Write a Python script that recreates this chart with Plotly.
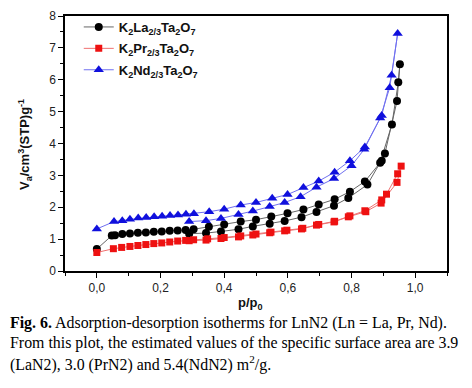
import plotly.graph_objects as go

# K2La2/3Ta2O7 (black circles)
la_ads_x = [0.29, 0.343, 0.39, 0.445, 0.49, 0.543, 0.59, 0.643, 0.69, 0.745, 0.79, 0.85, 0.89, 0.927, 0.947]
la_ads_y = [1.17, 1.19, 1.24, 1.31, 1.40, 1.48, 1.57, 1.69, 1.85, 2.05, 2.29, 2.71, 3.40, 4.60, 5.92]
la_des_x = [0.952, 0.943, 0.905, 0.895, 0.842, 0.795, 0.747, 0.697, 0.649, 0.599, 0.548, 0.50, 0.452, 0.40, 0.352,
            0.304, 0.279, 0.254, 0.229, 0.204, 0.179, 0.154, 0.129, 0.104, 0.08, 0.057, 0.047, 0.0]
la_des_y = [6.49, 5.33, 3.69, 3.46, 2.81, 2.49, 2.25, 2.09, 1.93, 1.81, 1.71, 1.61, 1.55, 1.46, 1.39,
            1.31, 1.29, 1.27, 1.26, 1.24, 1.23, 1.21, 1.20, 1.18, 1.16, 1.12, 1.11, 0.69]

# K2Pr2/3Ta2O7 (red squares)
pr_ads_x = [0.29, 0.343, 0.39, 0.445, 0.49, 0.543, 0.59, 0.643, 0.69, 0.745, 0.79, 0.845, 0.893, 0.943]
pr_ads_y = [0.95, 0.97, 1.02, 1.07, 1.13, 1.20, 1.26, 1.32, 1.44, 1.54, 1.70, 1.86, 2.13, 2.78]
pr_des_x = [0.956, 0.945, 0.91, 0.895, 0.842, 0.795, 0.747, 0.697, 0.647, 0.597, 0.547, 0.50, 0.452, 0.40, 0.348,
            0.304, 0.279, 0.254, 0.229, 0.204, 0.179, 0.154, 0.129, 0.104, 0.078, 0.052, 0.0]
pr_des_y = [3.29, 3.05, 2.41, 2.23, 1.89, 1.73, 1.56, 1.46, 1.34, 1.28, 1.22, 1.16, 1.10, 1.05, 1.01,
            0.98, 0.96, 0.94, 0.91, 0.88, 0.86, 0.83, 0.80, 0.77, 0.74, 0.70, 0.58]

# K2Nd2/3Ta2O7 (blue triangles)
nd_ads_x = [0.29, 0.343, 0.39, 0.445, 0.49, 0.543, 0.59, 0.64, 0.69, 0.745, 0.80, 0.84, 0.89, 0.92]
nd_ads_y = [1.55, 1.58, 1.65, 1.77, 1.88, 2.02, 2.15, 2.33, 2.63, 2.90, 3.30, 3.82, 4.80, 5.75]
nd_des_x = [0.945, 0.926, 0.895, 0.842, 0.795, 0.747, 0.697, 0.649, 0.599, 0.551, 0.50, 0.452, 0.40, 0.353,
            0.305, 0.28, 0.255, 0.23, 0.205, 0.18, 0.155, 0.13, 0.104, 0.08, 0.054, 0.0]
nd_des_y = [7.45, 6.14, 4.88, 3.89, 3.46, 3.10, 2.82, 2.62, 2.40, 2.28, 2.15, 2.07, 1.94, 1.86,
            1.80, 1.78, 1.76, 1.74, 1.72, 1.70, 1.68, 1.66, 1.62, 1.58, 1.55, 1.32]

names = ["<b>K<sub>2</sub>La<sub>2/3</sub>Ta<sub>2</sub>O<sub>7</sub></b>",
         "<b>K<sub>2</sub>Pr<sub>2/3</sub>Ta<sub>2</sub>O<sub>7</sub></b>",
         "<b>K<sub>2</sub>Nd<sub>2/3</sub>Ta<sub>2</sub>O<sub>7</sub></b>"]

x_ticks = [0.0, 0.2, 0.4, 0.6, 0.8, 1.0]
y_ticks = [0, 1, 2, 3, 4, 5, 6, 7, 8]

series = [
    (la_ads_x + la_des_x, la_ads_y + la_des_y, "circle", "#000000", "#666666", 8),
    (pr_ads_x + pr_des_x, pr_ads_y + pr_des_y, "square", "#ee1111", "#f07070", 7),
    (nd_ads_x + nd_des_x, nd_ads_y + nd_des_y, "triangle-up", "#1010dd", "#7070f0", 9),
]

fig = go.Figure()
for i, ((xs, ys, sym, mc, lc, ms), nm) in enumerate(zip(series, names)):
    fig.add_trace(go.Scatter(x=xs, y=ys, mode="lines+markers", name=nm, legendgroup=f"g{i}",
                             line=dict(color=lc, width=1),
                             marker=dict(symbol=sym, color=mc, size=ms)))

SANS = "Arial, Liberation Sans, sans-serif"
axis_font = dict(family=SANS, size=12, color="#222")
W, H = 464, 380
ML, MT, MB = 57, 8, 117
PW, PH = 382, H - MT - MB

# page has an 8px body margin: screen (sx, sy) -> paper coords
def px(sx):
    return (sx - 8 - ML) / PW

def py(sy):
    return (MT + PH - (sy - 8)) / PH

fig.update_layout(
    width=W, height=H,
    margin=dict(l=ML, r=W - ML - PW, t=MT, b=MB, autoexpand=False),
    paper_bgcolor="white", plot_bgcolor="white",
    separators=",.",
    showlegend=True,
    legend=dict(x=0.036, y=py(12), xanchor="left", yanchor="top",
                font=dict(family=SANS, size=13, color="#111"),
                bgcolor="rgba(0,0,0,0)", tracegroupgap=1.5, itemwidth=30),
    xaxis=dict(range=[-0.1, 1.1], tickvals=x_ticks, tickformat=".1f", automargin=False,
               ticks="outside", ticklen=5, tickwidth=1, tickcolor="#000",
               minor=dict(dtick=0.1, tick0=-0.1, ticks="outside", ticklen=3, tickcolor="#000"),
               showline=True, linecolor="#000", linewidth=1.5, mirror=True,
               showgrid=False, zeroline=False, tickfont=axis_font),
    yaxis=dict(range=[0, 8], tickvals=y_ticks, automargin=False, ticklabeloverflow="allow",
               ticks="outside", ticklen=5, tickwidth=1, tickcolor="#000",
               minor=dict(dtick=0.5, tick0=0, ticks="outside", ticklen=3, tickcolor="#000"),
               showline=True, linecolor="#000", linewidth=1.5, mirror=True,
               showgrid=False, zeroline=False, tickfont=axis_font),
)

fig.add_annotation(text="<b>p/p<sub>0</sub></b>", xref="paper", yref="paper",
                   x=px(250), y=py(303), xanchor="center", yanchor="middle",
                   showarrow=False, font=dict(family=SANS, size=13, color="#111"))
fig.add_annotation(text="<b>V<sub>a</sub>/cm<sup>3</sup>(STP)g<sup>-1</sup></b>", xref="paper", yref="paper",
                   x=px(25), y=py(145), xanchor="center", yanchor="middle", textangle=-90,
                   showarrow=False, font=dict(family=SANS, size=13, color="#111"))

caption = ["<b>Fig. 6.</b> Adsorption-desorption isotherms for LnN2 (Ln = La, Pr, Nd).",
           "From this plot, the estimated values of the specific surface area are 3.9",
           "(LaN2), 3.0 (PrN2) and 5.4(NdN2) m<sup>2</sup>/g."]
cap_y = [323, 343, 363]
for txt, sy in zip(caption, cap_y):
    fig.add_annotation(text=txt, xref="paper", yref="paper",
                       x=px(8), y=py(sy), xanchor="left", yanchor="middle",
                       showarrow=False, align="left",
                       font=dict(family="Liberation Serif, Times New Roman, serif", size=15.9, color="#000"))

fig.write_html("out.html")
